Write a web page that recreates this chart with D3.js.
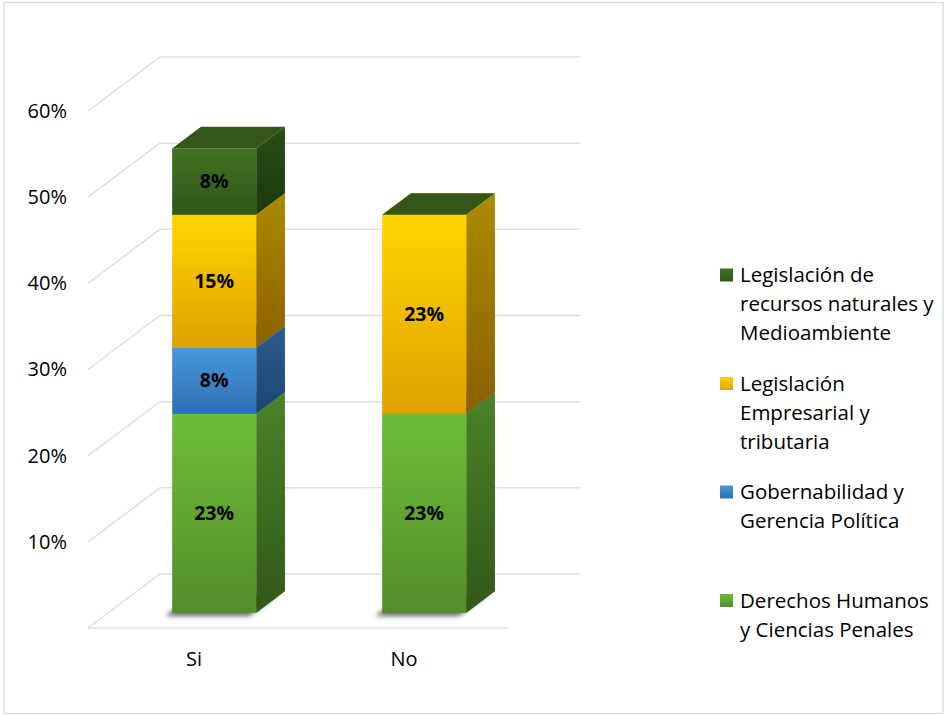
<!DOCTYPE html>
<html>
<head>
<meta charset="utf-8">
<script src="https://cdn.jsdelivr.net/npm/d3@7"></script>
<style>
  html, body { margin: 0; padding: 0; background: #fff; }
  text { font-family: "Open Sans", "Noto Sans", sans-serif; fill: #000; }
</style>
</head>
<body>
<div id="chart"></div>
<script>
// data
const categories = ["Si", "No"];
const seriesKeys = ["dh", "gob", "emp", "rn"];
const seriesLabels = [
  ["Derechos Humanos", "y Ciencias Penales"],
  ["Gobernabilidad y", "Gerencia Política"],
  ["Legislación", "Empresarial y", "tributaria"],
  ["Legislación de", "recursos naturales y", "Medioambiente"]
];
const siValues = [23.1, 7.7, 15.4, 7.7];
const noValues = [23.1, 0, 23.1, 0];
const yTicks = [0, 10, 20, 30, 40, 50, 60];

// colours per series: front (top, bottom), side (top, bottom), top face
const frontTop    = ["#6dbd38", "#4896dd", "#ffd400", "#417222"];
const frontBottom = ["#548d2a", "#2d72b2", "#e0a200", "#30571a"];
const sideTop     = ["#4a8228", "#2c5d8e", "#ab8b00", "#2a4d15"];
const sideBottom  = ["#325819", "#1d4670", "#8a6000", "#1d380e"];
const topFace     = ["#5a9a2e", "#3a7cc0", "#f2c200", "#33561b"];

const width = 944, height = 716;

const svg = d3.select("#chart").append("svg")
  .attr("width", width)
  .attr("height", height);

// outer frame
svg.append("rect")
  .attr("x", 4).attr("y", 2.5)
  .attr("width", 939).attr("height", 711)
  .attr("fill", "#fff")
  .attr("stroke", "#d9dde3")
  .attr("stroke-width", 1.5);

const defs = svg.append("defs");
seriesKeys.forEach((k, i) => {
  const gf = defs.append("linearGradient").attr("id", "front-" + k)
    .attr("x1", 0).attr("y1", 0).attr("x2", 0).attr("y2", 1);
  gf.append("stop").attr("offset", "0%").attr("stop-color", frontTop[i]);
  gf.append("stop").attr("offset", "100%").attr("stop-color", frontBottom[i]);
  const gs = defs.append("linearGradient").attr("id", "side-" + k)
    .attr("x1", 0).attr("y1", 0).attr("x2", 0).attr("y2", 1);
  gs.append("stop").attr("offset", "0%").attr("stop-color", sideTop[i]);
  gs.append("stop").attr("offset", "100%").attr("stop-color", sideBottom[i]);
});
defs.append("filter").attr("id", "blur")
  .attr("x", "-50%").attr("y", "-50%").attr("width", "200%").attr("height", "200%")
  .append("feGaussianBlur").attr("stdDeviation", 2.5);

// 3D layout: front plane + depth offset
const depthX = 72, depthY = 54;
const z0 = 0.28, z1 = 0.68;

const x = d3.scaleBand()
  .domain(categories)
  .range([89, 509])
  .paddingInner(0.6)
  .paddingOuter(0.3);

const y = d3.scaleLinear()
  .domain([0, 60])
  .range([628, 628 - 517]);

const project = (px, v, z) => [px + z * depthX, y(v) - z * depthY];

// gridlines: side wall diagonal + back wall
const grid = svg.append("g")
  .attr("fill", "none")
  .attr("stroke", "#dcdfe5")
  .attr("stroke-width", 1.5);

grid.selectAll("path")
  .data(yTicks)
  .join("path")
  .attr("d", v => d3.line()([project(88, v, 0), project(88, v, 1), project(508, v, 1)]));

grid.append("line")
  .attr("x1", 88).attr("x2", 508)
  .attr("y1", y(0)).attr("y2", y(0));

// y axis labels
const yAxis = d3.axisLeft(y)
  .tickValues(yTicks.filter(v => v > 0))
  .tickFormat(d => d + "%")
  .tickSize(0)
  .tickPadding(0);

svg.append("g")
  .attr("transform", "translate(67,0)")
  .call(yAxis)
  .call(g => g.select(".domain").remove())
  .call(g => g.selectAll("text")
    .style("font-family", "'Open Sans', sans-serif")
    .style("font-size", "20px")
    .attr("fill", "#000"));

// x axis labels
const xAxis = d3.axisBottom(x).tickSize(0).tickPadding(3);

svg.append("g")
  .attr("transform", "translate(0,649)")
  .call(xAxis)
  .call(g => g.select(".domain").remove())
  .call(g => g.selectAll("text")
    .style("font-family", "'Open Sans', sans-serif")
    .style("font-size", "20px")
    .attr("fill", "#000"));

// stacked data
const table = categories.map((c, i) => {
  const row = {cat: c};
  seriesKeys.forEach((k, j) => row[k] = (i === 0 ? siValues : noValues)[j]);
  return row;
});
const stacked = d3.stack().keys(seriesKeys)(table);

const bars = svg.append("g");

// soft shadow under each bar
bars.selectAll(".shadow")
  .data(categories)
  .join("path")
  .attr("class", "shadow")
  .attr("d", c => {
    const x0 = x(c), x1 = x(c) + x.bandwidth();
    return d3.line()([project(x0, 0, z0), project(x1, 0, z0), project(x1, 0, z1), project(x0, 0, z1)]) + "Z";
  })
  .attr("transform", "translate(-7,3)")
  .attr("fill", "#000")
  .attr("opacity", 0.6)
  .attr("filter", "url(#blur)");

stacked.forEach((layer, i) => {
  const k = seriesKeys[i];
  const g = bars.append("g").attr("class", "layer-" + k);
  layer.forEach(d => {
    const c = d.data.cat;
    const x0 = x(c), x1 = x(c) + x.bandwidth();
    const [lo, hi] = d;
    if (hi - lo > 0) {
      // side face
      g.append("path")
        .attr("d", d3.line()([project(x1, lo, z0), project(x1, hi, z0), project(x1, hi, z1), project(x1, lo, z1)]) + "Z")
        .attr("fill", "url(#side-" + k + ")");
      // front face
      const [fx, fy] = project(x0, hi, z0);
      g.append("rect")
        .attr("x", fx).attr("y", fy)
        .attr("width", x1 - x0)
        .attr("height", y(lo) - y(hi))
        .attr("fill", "url(#front-" + k + ")");
    }
    // top face
    g.append("path")
      .attr("d", d3.line()([project(x0, hi, z0), project(x1, hi, z0), project(x1, hi, z1), project(x0, hi, z1)]) + "Z")
      .attr("fill", topFace[i]);
  });
});

// value labels
const fmt = d3.format(".0f");
stacked.forEach((layer, i) => {
  bars.append("g")
    .selectAll("text")
    .data(layer.filter(d => d[1] - d[0] > 0))
    .join("text")
    .attr("x", d => project(x(d.data.cat) + x.bandwidth() / 2, 0, z0)[0])
    .attr("y", d => project(0, (d[0] + d[1]) / 2, z0)[1])
    .attr("dy", "0.35em")
    .attr("text-anchor", "middle")
    .style("font-size", "19.5px")
    .style("font-weight", "bold")
    .text(d => fmt(d[1] - d[0]) + "%");
});

// legend
const legend = svg.append("g");
const legendOrder = d3.range(seriesKeys.length).reverse();
legendOrder.forEach((si, pos) => {
  const cy = 275 + pos * 108.5;
  const item = legend.append("g");
  item.append("rect")
    .attr("x", 720).attr("y", cy - 6.5)
    .attr("width", 13).attr("height", 13)
    .attr("fill", "url(#front-" + seriesKeys[si] + ")");
  item.append("text")
    .attr("x", 740)
    .attr("y", cy)
    .style("font-size", "20.5px")
    .selectAll("tspan")
    .data(seriesLabels[si])
    .join("tspan")
    .attr("x", 740)
    .attr("y", (d, j) => cy + j * 29)
    .attr("dy", "0.35em")
    .text(d => d);
});
</script>
</body>
</html>
